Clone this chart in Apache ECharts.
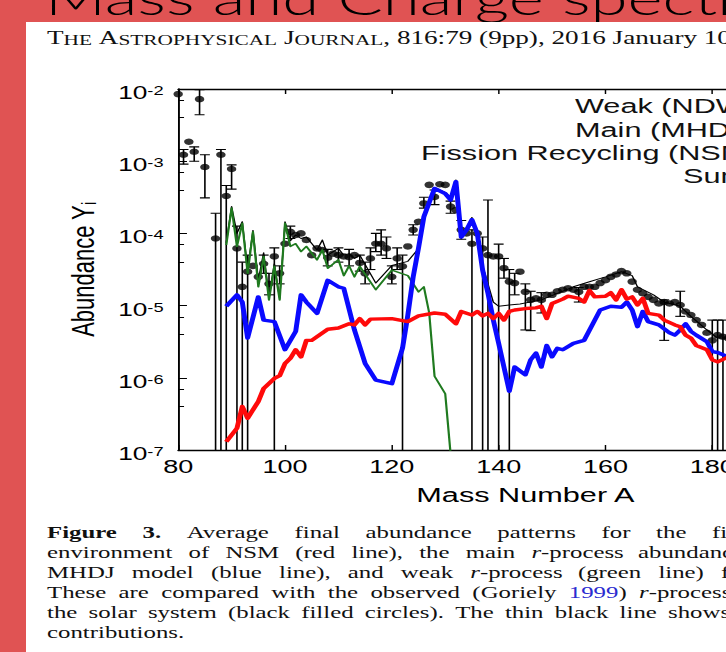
<!DOCTYPE html>
<html>
<head>
<meta charset="utf-8">
<script src="https://cdn.jsdelivr.net/npm/echarts@6/dist/echarts.min.js"></script>
<style>
  html, body { margin: 0; padding: 0; background: #e05353; overflow: hidden; }
  /* the scanned page in the slide is stretched sideways, so draw narrow and stretch */
  #main { width: 497px; height: 652px; transform: scaleX(1.46076); transform-origin: 0 0; }
</style>
</head>
<body>
<div id="main"></div>
<script>
// solar r-process abundances (black dots)
const solarMass = [
  80, 81, 82, 83, 84, 85, 87, 88, 89, 90,
  91, 92, 93, 94, 95, 96, 97, 98, 99, 100,
  101, 102, 103, 104, 105, 106, 107, 108, 109, 110,
  111, 112, 113, 114, 115, 116, 117, 118, 119, 120,
  121, 122, 123, 124, 125, 126, 127, 128, 129, 130,
  131, 132, 133, 134, 135, 136, 137, 138, 139, 140,
  141, 142, 143, 144, 145, 146, 147, 148, 149, 150,
  151, 152, 153, 154, 155, 156, 157, 158, 159, 160,
  161, 162, 163, 164, 165, 166, 167, 168, 169, 170,
  171, 172, 173, 174, 175, 176, 177, 178, 179, 180,
  181, 182, 183
];
const solarAbund = [
  8.5e-3, 1.23e-3, 1.86e-3, 1.35e-3, 7.24e-3, 8.3e-4, 8.5e-5, 1.23e-3, 3.3e-4, 7.8e-4,
  6.2e-5, 1.82e-5, 2.95e-5, 3.55e-5, 2.5e-5, 3.8e-5, 2.0e-5, 4.8e-5, 2.8e-5, 7.2e-5,
  1.05e-4, 9.5e-5, 1.0e-4, 8.1e-5, 5.0e-5, 6.2e-5, 5.9e-5, 4.6e-5, 5.25e-5, 5.0e-5,
  4.8e-5, 4.7e-5, 5.0e-5, 3.9e-5, 2.8e-5, 4.5e-5, 7.2e-5, 7.2e-5, 6.2e-5, 2.5e-5,
  4.5e-5, 3.5e-5, 6.6e-5, 1.12e-4, 1.45e-4, 2.6e-4, 4.7e-4, 3.2e-4, 4.8e-4, 4.7e-4,
  2.35e-4, 2.1e-4, 1.12e-4, 1.0e-4, 7.2e-5, 1.0e-4, 6.2e-5, 5.0e-5, 4.8e-5, 4.8e-5,
  3.3e-5, 2.15e-5, 2.05e-5, 2.95e-5, 1.55e-5, 1.2e-5, 1.26e-5, 1.2e-5, 1.41e-5, 1.41e-5,
  1.58e-5, 1.66e-5, 1.74e-5, 1.66e-5, 1.55e-5, 1.82e-5, 1.82e-5, 1.82e-5, 2.05e-5, 2.25e-5,
  2.5e-5, 2.7e-5, 3.0e-5, 2.8e-5, 2.15e-5, 1.66e-5, 1.48e-5, 1.32e-5, 1.2e-5, 1.07e-5,
  1.12e-5, 1.07e-5, 1.12e-5, 1.02e-5, 8.3e-6, 7.4e-6, 6.3e-6, 5.4e-6, 4.2e-6, 3.3e-6,
  3.9e-6, 3.7e-6, 3.55e-6
];

// error bars on the solar values; low 0 = bar runs off the bottom
const errMass = [
  81, 83, 84, 85, 87, 88, 89, 90, 91, 92,
  93, 96, 97, 98, 99, 101, 108, 110, 112, 114,
  115, 116, 117, 118, 119, 120, 121, 122, 124, 126,
  128, 131, 133, 135, 137, 138, 140, 141, 142, 143,
  145, 146, 148, 155, 171, 174, 180, 181, 182
];
const errLow = [
  9.1e-4, 1.0e-3, 4.4e-3, 3.1e-4, 0, 0, 0, 4.1e-4, 0, 0,
  0, 2.8e-5, 1.41e-5, 0, 2.0e-5, 8.5e-5, 3.55e-5, 4.0e-5, 3.55e-5, 3.0e-5,
  2.0e-5, 3.16e-5, 5.6e-5, 5.0e-5, 4.5e-5, 2.0e-5, 3.16e-5, 0, 9.5e-5, 2.24e-4,
  2.5e-4, 1.9e-4, 8.3e-5, 0, 0, 0, 0, 2.4e-5, 0, 1.41e-5,
  4.6e-6, 4.5e-6, 7.9e-6, 1.12e-5, 3.3e-6, 7.1e-6, 0, 0, 0
];
const errHigh = [
  1.45e-3, 1.58e-3, 9.8e-3, 1.23e-3, 1.9e-4, 1.45e-3, 4.6e-4, 8.9e-4, 1.26e-4, 4.0e-5,
  5.0e-5, 5.0e-5, 2.8e-5, 6.3e-5, 3.55e-5, 1.26e-4, 6.0e-5, 6.3e-5, 6.0e-5, 5.0e-5,
  4.0e-5, 6.3e-5, 1.0e-4, 1.12e-4, 8.9e-5, 3.55e-5, 6.3e-5, 5.0e-5, 1.32e-4, 3.16e-4,
  4.0e-4, 2.8e-4, 1.51e-4, 1.12e-4, 8.9e-5, 2.9e-4, 7.1e-5, 4.5e-5, 3.16e-5, 2.8e-5,
  2.0e-5, 1.58e-5, 1.51e-5, 1.78e-5, 1.2e-5, 1.58e-5, 6.3e-6, 6.3e-6, 6.3e-6
];

// fission recycling (NSM) - red
const nsmMass = [
  89, 91, 92, 93, 95, 96, 98, 99, 100, 101,
  102, 103, 104, 105, 108, 110, 112, 113, 114, 115,
  116, 120, 123, 125, 128, 130, 132, 133, 135, 136,
  137, 138, 139, 140, 141, 142, 143, 145, 147, 148,
  149, 150, 152, 153, 155, 156, 157, 158, 160, 161,
  162, 163, 164, 165, 166, 167, 168, 170, 171, 173,
  174, 175, 176, 177, 179, 180, 181, 183
];
const nsmAbund = [
  1.3e-7, 2.0e-7, 4.0e-7, 2.75e-7, 4.7e-7, 7.1e-7, 9.8e-7, 1.07e-6, 1.58e-6, 1.86e-6,
  2.45e-6, 1.95e-6, 3.3e-6, 3.3e-6, 4.7e-6, 4.9e-6, 5.6e-6, 5.4e-6, 6.6e-6, 5.4e-6,
  6.5e-6, 6.6e-6, 6.0e-6, 7.2e-6, 7.9e-6, 7.6e-6, 5.6e-6, 8.3e-6, 7.4e-6, 8.3e-6,
  7.2e-6, 7.8e-6, 6.6e-6, 7.8e-6, 6.3e-6, 8.3e-6, 8.7e-6, 9.1e-6, 9.3e-6, 9.8e-6,
  6.6e-6, 1.07e-5, 1.23e-5, 1.35e-5, 1.26e-5, 1.12e-5, 1.62e-5, 1.32e-5, 1.35e-5, 1.51e-5,
  1.2e-5, 1.66e-5, 1.23e-5, 1.32e-5, 1.02e-5, 1.26e-5, 7.8e-6, 7.4e-6, 6.3e-6, 5.4e-6,
  5.1e-6, 3.9e-6, 3.55e-6, 2.8e-6, 2.45e-6, 1.78e-6, 1.66e-6, 1.95e-6
];

// main r-process (MHDJ) - blue
const mhdjMass = [
  89, 91, 92, 93, 95, 96, 98, 100, 102, 103,
  104, 106, 108, 110, 111, 113, 115, 117, 120, 122,
  123, 124, 125, 126, 128, 130, 131, 132, 133, 134,
  135, 136, 137, 138, 139, 140, 142, 143, 145, 146,
  147, 148, 149, 150, 151, 152, 154, 156, 159, 161,
  163, 164, 165, 166, 167, 168, 170, 172, 173, 174,
  175, 176, 177, 179, 180, 181, 183
];
const mhdjAbund = [
  9.8e-6, 1.41e-5, 1.12e-5, 3.55e-6, 1.32e-5, 6.3e-6, 6.0e-6, 2.45e-6, 4.4e-6, 1.41e-5,
  1.12e-5, 7.8e-6, 2.24e-5, 1.82e-5, 1.74e-5, 4.6e-6, 1.58e-6, 9.3e-7, 8.3e-7, 2.57e-6,
  7.4e-6, 2.5e-5, 6.3e-5, 1.7e-4, 4.2e-4, 3.55e-4, 2.9e-4, 5.2e-4, 8.9e-5, 1.12e-4,
  1.55e-4, 1.0e-4, 3.1e-5, 1.48e-5, 6.3e-6, 3.0e-6, 6.5e-7, 1.41e-6, 1.1e-6, 1.78e-6,
  2.2e-6, 1.41e-6, 2.8e-6, 1.95e-6, 2.57e-6, 2.45e-6, 3.0e-6, 3.3e-6, 8.7e-6, 9.8e-6,
  9.5e-6, 1.12e-5, 8.7e-6, 5.1e-6, 8.3e-6, 6.0e-6, 5.4e-6, 4.2e-6, 3.9e-6, 4.6e-6,
  5.6e-6, 4.4e-6, 3.9e-6, 3.16e-6, 2.3e-6, 2.24e-6, 1.95e-6
];

// weak r-process (NDW) - green
const ndwMass = [
  89, 90, 91, 92, 93, 94, 95, 96, 97, 98,
  99, 100, 101, 102, 103, 104, 106, 107, 108, 110,
  111, 112, 113, 114, 117, 120, 123, 125, 126, 127,
  128, 130, 131
];
const ndwAbund = [
  6.9e-5, 2.24e-4, 6.6e-5, 1.38e-4, 2.8e-5, 1.05e-4, 1.82e-5, 4.8e-5, 1.2e-5, 3.5e-5,
  1.2e-5, 1.38e-4, 6.6e-5, 7.2e-5, 5.6e-5, 6.6e-5, 4.3e-5, 5.9e-5, 3.3e-5, 4.3e-5,
  2.6e-5, 3.55e-5, 2.5e-5, 3.5e-5, 1.66e-5, 3.1e-5, 2.6e-5, 1.55e-5, 1.82e-5, 7.9e-6,
  1.05e-6, 6.0e-7, 8.9e-8
];

// thin black line, sum of the three
const sumMass = [
  89, 90, 91, 92, 93, 94, 95, 96, 97, 98,
  99, 100, 101, 102, 103, 104, 106, 107, 108, 110,
  111, 112, 113, 114, 117, 120, 123, 125, 126, 128,
  130, 131, 132, 133, 134, 135, 136, 137, 138, 139,
  140, 142, 144, 148, 151, 154, 157, 160, 163, 165,
  166, 169, 171, 174, 176, 179, 181, 183
];
const sumAbund = [
  7.4e-5, 2.35e-4, 1.0e-4, 1.45e-4, 3.16e-5, 1.1e-4, 2.24e-5, 5.4e-5, 1.32e-5, 3.8e-5,
  1.26e-5, 1.45e-4, 7.9e-5, 9.5e-5, 8.5e-5, 8.9e-5, 5.9e-5, 8.1e-5, 5.0e-5, 6.2e-5,
  5.0e-5, 5.25e-5, 4.5e-5, 5.0e-5, 2.05e-5, 3.6e-5, 4.1e-5, 6.2e-5, 1.78e-4, 4.3e-4,
  3.7e-4, 3.16e-4, 5.5e-4, 1.0e-4, 1.2e-4, 1.66e-4, 1.05e-4, 3.55e-5, 2.0e-5, 1.12e-5,
  9.8e-6, 1.02e-5, 1.05e-5, 1.2e-5, 1.48e-5, 1.82e-5, 2.14e-5, 2.5e-5, 2.95e-5, 2.6e-5,
  1.82e-5, 1.41e-5, 1.12e-5, 9.8e-6, 7.1e-6, 4.6e-6, 3.55e-6, 3.55e-6
];

const legendRows = [
  ['Weak (NDW)', 575, 105.5],
  ['Main (MHDJ)', 575, 129.5],
  ['Fission Recycling (NSM)', 421, 152.5],
  ['Sum', 683, 175.5]
];

const SX = 726 / 497;
const ix = x => x / SX;   // picture x -> chart x (chart is stretched by SX)
const sans = '"Liberation Sans", Arial, sans-serif';
const serif = '"Liberation Serif", "Times New Roman", serif';
const capSize = 17;

const chart = echarts.init(document.getElementById('main'), null, { renderer: 'svg' });

const capRich = {
  b: { fontFamily: serif, fontSize: capSize, fontWeight: 'bold', fill: '#111' },
  i: { fontFamily: serif, fontSize: capSize, fontStyle: 'italic', fill: '#111' },
  l: { fontFamily: serif, fontSize: capSize, fill: '#2b2bd0' }
};

function captionText(text, x, y) {
  return {
    type: 'text', x: x, y: y, z: 5,
    style: {
      text: text, fontFamily: serif, fontSize: capSize, fill: '#111',
      verticalAlign: 'middle', rich: capRich
    }
  };
}

// justified caption: the last visible word of each line starts at lastImg (picture px)
const measure = document.createElement('canvas').getContext('2d');
function wordWidth(w) {
  measure.font = (w.indexOf('{b|') >= 0 ? 'bold ' : '') + capSize + 'px ' + serif;
  return measure.measureText(w.replace(/\{\w\|([^}]*)\}/g, '$1')).width;
}
function justifiedLine(words, startImg, lastImg, y) {
  const widths = words.map(wordWidth);
  const before = widths.slice(0, -1).reduce((s, v) => s + v, 0);
  const gap = (ix(lastImg) - ix(startImg) - before) / (words.length - 1);
  let x = ix(startImg);
  return words.map((w, i) => {
    const el = captionText(w, x, y);
    x += widths[i] + gap;
    return el;
  });
}

const captionLines = [
  [['{b|Figure}', '{b|3.}', 'Average', 'final', 'abundance', 'patterns', 'for', 'the', 'fission-recycling'], 712],
  [['environment', 'of', 'NSM', '(red', 'line),', 'the', 'main', '{i|r}-process', 'abundance'], 638],
  [['MHDJ', 'model', '(blue', 'line),', 'and', 'weak', '{i|r}-process', '(green', 'line)', 'from'], 721],
  [['These', 'are', 'compared', 'with', 'the', 'observed', '(Goriely', '{l|1999})', '{i|r}-process'], 639],
  [['the', 'solar', 'system', '(black', 'filled', 'circles).', 'The', 'thin', 'black', 'line', 'shows'], 668]
];

let graphics = [
  {
    type: 'text', x: ix(45), y: -3, z: -20,
    style: { text: 'Mass and Charge spectra', fontFamily: 'Lato, "Open Sans", sans-serif',
             fontWeight: 300, fontSize: 46, fill: '#000', verticalAlign: 'middle' }
  },
  {
    type: 'rect', z: -10,
    shape: { x: ix(26), y: 22, width: 497, height: 640 },
    style: { fill: '#fff' }
  },
  {
    type: 'text', x: ix(47), y: 38, z: 5,
    style: {
      text: '{c|T}{s|HE} {c|A}{s|STROPHYSICAL} {c|J}{s|OURNAL}{c|, 816:79 (9pp), 2016 January 10}',
      fontFamily: serif, fontSize: 18.6, fill: '#111', verticalAlign: 'middle',
      rich: {
        c: { fontFamily: serif, fontSize: 18.6, fill: '#111', verticalAlign: 'bottom', lineHeight: 18 },
        s: { fontFamily: serif, fontSize: 14.6, fill: '#111', verticalAlign: 'bottom', lineHeight: 16 }
      }
    }
  }
];

legendRows.forEach(r => {
  graphics.push({
    type: 'text', x: ix(r[1]), y: r[2], z: 5,
    style: { text: r[0], fontFamily: sans, fontSize: 21, fill: '#111', verticalAlign: 'middle' }
  });
});

captionLines.forEach((line, k) => {
  graphics = graphics.concat(justifiedLine(line[0], 47, line[1], 532 + k * 20));
});
graphics.push(captionText('contributions.', ix(47), 632));

function pairs(xs, ys) {
  return xs.map((x, i) => [x, ys[i]]);
}

function modelLine(name, xs, ys, color, width, z) {
  return {
    name: name, type: 'line', data: pairs(xs, ys), z: z,
    showSymbol: false, symbol: 'none', clip: true,
    lineStyle: { color: color, width: width, join: 'round' }
  };
}

const axisBlack = { color: '#000', width: 1.3 };
// x runs 80..210, the page is cropped at about A = 183
const gridLeft = ix(178.2);
const gridWidth = ix(872.5) - gridLeft;

const option = {
  backgroundColor: '#e05353',
  animation: false,
  textStyle: { fontFamily: sans },
  grid: { left: gridLeft, width: gridWidth, top: 89, bottom: 202, outerBoundsMode: 'none' },
  xAxis: [
    {
      type: 'value', min: 80, max: 210, interval: 20, position: 'bottom',
      axisLine: { show: true, onZero: false, lineStyle: axisBlack },
      axisTick: { show: true, inside: true, length: 5, lineStyle: { color: '#000' } },
      axisLabel: { fontSize: 18.5, color: '#000', margin: 7, fontFamily: sans },
      splitLine: { show: false },
      name: 'Mass Number A', nameLocation: 'middle', nameGap: 34,
      nameTextStyle: { fontSize: 21, color: '#000', fontFamily: sans }
    },
    {
      type: 'value', min: 80, max: 210, interval: 20, position: 'top',
      axisLine: { show: true, onZero: false, lineStyle: axisBlack },
      axisTick: { show: true, inside: true, length: 5, lineStyle: { color: '#000' } },
      axisLabel: { show: false },
      splitLine: { show: false }
    }
  ],
  yAxis: [
    {
      type: 'log', logBase: 10, min: 1e-7, max: 1e-2,
      axisLine: { show: true, onZero: false, lineStyle: axisBlack },
      axisTick: { show: true, inside: true, length: 6, lineStyle: { color: '#000' } },
      minorTick: { show: true, splitNumber: 3, length: 4, lineStyle: { color: '#000' } },
      splitLine: { show: false },
      axisLabel: {
        margin: 10, padding: [8, 0, 0, 0],
        formatter: v => '{b|10}{s|' + Math.round(Math.log10(v)) + '}',
        rich: {
          b: { fontSize: 18, lineHeight: 18, verticalAlign: 'bottom', fontFamily: sans, color: '#000' },
          s: { fontSize: 12.5, lineHeight: 14, verticalAlign: 'top', padding: [0, 0, 8, 0],
               fontFamily: sans, color: '#000' }
        }
      },
      name: 'Abundance Y{i|i}', nameLocation: 'middle', nameGap: 54, nameRotate: 90,
      nameTextStyle: {
        fontSize: 22, color: '#000', fontFamily: sans,
        rich: { i: { fontSize: 14, color: '#000', fontFamily: sans, verticalAlign: 'bottom', padding: [8, 0, 0, 0] } }
      }
    }
  ],
  graphic: graphics,
  series: [
    {
      name: 'error', type: 'custom', z: 3, clip: true,
      data: errMass.map((a, i) => [a, errLow[i], errHigh[i]]),
      encode: { x: 0, y: 2 },
      renderItem: function (params, api) {
        const a = api.value(0);
        const bounded = api.value(1) > 0;
        const top = api.coord([a, api.value(2)]);
        const bot = api.coord([a, bounded ? api.value(1) : 1e-7]);
        const cap = 3.4;
        const st = { stroke: '#000', lineWidth: 1.1 };
        const kids = [
          { type: 'line', shape: { x1: top[0], y1: top[1], x2: bot[0], y2: bot[1] }, style: st },
          { type: 'line', shape: { x1: top[0] - cap, y1: top[1], x2: top[0] + cap, y2: top[1] }, style: st }
        ];
        if (bounded) {
          kids.push({ type: 'line', shape: { x1: bot[0] - cap, y1: bot[1], x2: bot[0] + cap, y2: bot[1] }, style: st });
        }
        return { type: 'group', children: kids };
      }
    },
    {
      name: 'Solar', type: 'scatter', z: 4,
      data: pairs(solarMass, solarAbund),
      symbol: 'circle', symbolSize: 6.5,
      itemStyle: { color: '#000' }
    },
    modelLine('Sum', sumMass, sumAbund, '#000', 1, 5),
    modelLine('Weak (NDW)', ndwMass, ndwAbund, '#1f7a1f', 1.5, 6),
    modelLine('Main (MHDJ)', mhdjMass, mhdjAbund, '#0a0aff', 3.4, 7),
    modelLine('Fission Recycling (NSM)', nsmMass, nsmAbund, '#ff0a0a', 3.4, 8)
  ]
};

chart.setOption(option);
</script>
</body>
</html>
